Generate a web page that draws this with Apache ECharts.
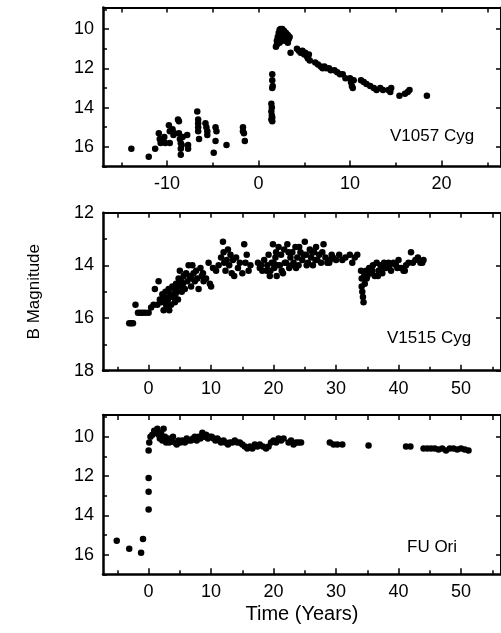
<!DOCTYPE html>
<html>
<head>
<meta charset="utf-8">
<script src="https://cdn.jsdelivr.net/npm/echarts@6/dist/echarts.min.js"></script>
<style>html,body{margin:0;padding:0;background:#fff;}#c{width:501px;height:633px;}</style>
</head>
<body>
<div id="c"></div>
<script>
// ---- data: [time (years), B magnitude] ----
const v1057Data = [
[-13.9,16.1],[-12.0,16.5],[-11.3,16.1],[-10.9,15.3],[-10.8,15.6],[-10.7,15.8],[-10.4,15.7],[-10.3,15.5],[-10.2,15.8],
[-9.8,14.9],[-9.7,15.2],[-9.7,15.8],[-9.4,15.1],[-9.3,15.4],[-9.2,15.3],[-8.8,14.6],[-8.7,14.7],[-8.7,15.3],[-8.6,15.6],
[-8.5,15.8],[-8.5,16.1],[-8.5,16.4],[-8.4,15.9],[-8.3,15.5],[-7.8,15.4],[-7.7,15.9],[-7.7,16.1],[-6.7,14.2],[-6.6,14.6],
[-6.6,14.8],[-6.6,15.0],[-6.6,15.2],[-6.5,15.6],[-5.8,14.8],[-5.7,15.0],[-5.6,15.2],[-5.6,15.4],[-4.7,15.0],[-4.6,15.2],
[-4.7,15.7],[-4.9,16.3],[-3.5,15.9],[-1.7,15.0],[-1.7,15.2],[-1.6,15.3],[-1.5,15.7],
[1.5,12.3],[1.5,12.6],[1.55,12.9],[1.5,13.0],[1.4,13.8],[1.45,14.0],[1.4,14.2],[1.45,14.4],[1.5,14.5],[1.4,14.6],[1.5,14.7],
[1.9,10.9],[2.0,10.6],[2.1,10.4],[2.2,10.2],[2.3,10.05],[2.4,10.0],[2.5,10.1],[2.6,10.0],[2.7,10.2],[2.8,10.1],[2.9,10.3],
[3.0,10.2],[3.1,10.4],[3.2,10.3],[3.3,10.5],[2.2,10.5],[2.5,10.6],[2.8,10.5],[3.1,10.6],[3.4,10.4],[2.0,10.8],[3.5,11.2],
[2.3,10.7],[2.6,10.4],[2.9,10.6],[3.2,10.7],
[4.2,11.0],[4.4,11.1],[4.6,11.2],[4.8,11.1],[5.0,11.3],[5.1,11.2],[5.3,11.4],[5.4,11.5],[5.5,11.3],[5.6,11.6],[6.2,11.7],
[6.5,11.8],[6.8,11.9],[7.0,12.0],[7.2,11.9],[7.4,12.0],[7.7,12.0],[7.9,12.1],[8.3,12.1],[8.6,12.2],[8.9,12.3],[9.2,12.3],
[9.5,12.5],[10.0,12.5],[10.1,12.7],[10.2,12.9],[10.3,13.0],[10.4,12.6],[11.2,12.6],[11.5,12.7],[11.8,12.8],[12.2,12.9],
[12.6,13.0],[12.9,13.1],[13.3,13.0],[13.6,13.1],[14.2,13.1],[14.4,13.2],[14.5,13.0],[15.4,13.4],[16.0,13.3],[16.3,13.2],
[16.5,13.1],[18.4,13.4]
];
const v1515Data = [
[-3.1,16.2],[-2.8,16.2],[-2.5,16.2],[-2.1,15.5],[-1.7,15.8],[-1.3,15.8],[-0.9,15.8],[-0.5,15.8],[0.0,15.8],[0.4,15.6],
[0.8,15.5],[1.0,14.9],[1.4,15.5],[1.6,14.6],[1.8,15.3],[2.0,15.4],[2.2,15.1],[2.4,15.7],[2.5,15.2],[2.7,15.0],[2.8,15.5],
[3.0,15.6],[3.1,15.3],[3.2,14.9],[3.3,15.7],[3.5,15.1],[3.6,15.5],[3.8,14.8],[3.9,15.2],[4.1,14.9],[4.2,15.4],[4.4,14.7],
[4.5,15.0],[4.7,15.3],[4.8,14.5],[4.9,14.8],[5.0,14.2],[5.2,14.6],[5.3,15.0],[5.5,14.7],[5.6,14.4],[5.8,14.9],[6.0,14.3],
[6.2,14.6],[6.4,14.0],[6.6,14.4],[6.8,14.8],[7.0,14.0],[7.2,14.3],[7.4,14.6],[7.6,14.2],[7.8,14.5],[8.0,14.9],[8.3,14.1],
[8.5,14.4],[8.8,14.6],[9.2,14.5],[9.6,13.9],[9.8,14.7],[10.0,14.8],[10.3,14.1],[10.8,14.2],[11.2,14.0],[11.6,13.7],
[11.9,13.1],[12.0,13.5],[12.1,13.9],[12.3,14.2],[12.5,13.8],[12.7,13.4],[12.9,14.0],[13.1,13.6],[13.3,14.3],[13.5,13.8],
[13.7,14.4],[14.0,13.7],[14.3,14.1],[14.6,13.9],[15.0,14.3],[15.3,13.2],[15.5,13.9],[15.7,13.6],[16.0,14.2],[16.3,14.0],
[17.5,13.9],[18.0,14.0],[18.5,13.8],[18.9,14.2],[19.2,13.6],[19.4,14.4],[19.7,13.9],[19.9,13.2],[20.1,14.1],[20.3,13.7],
[20.5,14.4],[20.8,13.3],[21.0,14.0],[21.2,13.6],[21.5,14.3],[21.7,13.4],[22.0,13.9],[22.2,13.2],[22.5,14.1],[22.7,13.7],
[23.0,13.5],[23.2,13.9],[23.5,13.3],[23.8,13.7],[24.0,14.0],[24.3,13.5],[24.6,13.8],[25.0,13.1],[25.2,13.6],[25.5,13.9],
[25.8,13.4],[26.0,13.7],[26.3,14.0],[26.5,13.5],[26.8,13.3],[27.0,13.8],[27.3,13.6],[27.6,13.9],[28.0,13.2],[28.3,13.7],
[28.6,13.9],[29.0,13.8],[29.5,13.7],[30.0,13.8],[30.5,13.6],[31.0,13.8],[31.5,13.7],[32.2,13.6],[32.6,13.9],[33.0,13.7],
[33.4,13.6],[18.2,14.2],[19.0,14.0],[20.0,13.9],[21.3,14.2],[23.6,14.1],[25.3,14.0],
[17.8,14.1],[19.5,14.2],[20.6,14.0],[21.8,13.9],[22.9,14.0],[24.8,13.6],[26.2,13.5],[27.8,13.5],[29.3,13.6],[20.4,13.5],
[22.4,13.5],[24.1,13.3],[26.7,13.8],[28.9,13.9],[2.6,15.4],[3.4,15.2],[4.3,15.1],[5.4,14.9],[6.9,14.5],[8.7,14.3],
[34.9,14.5],[35.8,14.2],[36.7,14.4],[37.6,14.1],[38.6,14.0],[39.8,14.1],[41.0,14.2],[43.8,13.9],
[34.0,14.2],[34.1,14.5],[34.1,14.8],[34.2,15.0],[34.3,15.2],[34.4,15.4],[34.5,14.4],[34.6,14.7],[34.8,14.2],[35.0,14.4],
[35.3,14.1],[35.6,14.3],[35.9,14.0],[36.2,14.4],[36.5,13.9],[36.8,14.2],[37.1,14.0],[37.4,14.3],[37.7,13.9],[38.0,14.1],
[38.4,13.9],[38.8,14.2],[39.2,13.9],[39.6,14.0],[40.0,13.8],[40.4,14.1],[40.8,14.2],[41.2,14.0],[41.6,13.9],[42.0,13.5],
[42.3,13.9],[42.7,13.8],[43.1,13.7],[43.5,13.9],[44.0,13.8]
];
const fuOriData = [
[-5.1,15.3],[-3.1,15.7],[-1.2,15.9],[-0.9,15.2],[0.0,13.7],[0.0,12.8],[0.0,12.1],[0.0,10.7],[0.1,10.3],[0.3,10.0],[0.6,9.9],
[0.9,9.7],[1.1,9.8],[1.4,9.6],[1.6,9.9],[1.8,10.1],[2.0,9.8],[2.2,10.2],[2.4,9.6],[2.6,10.0],[2.8,10.3],[3.1,10.1],[3.3,10.3],
[3.6,10.2],[3.9,10.0],[4.2,10.3],[4.5,10.4],[4.8,10.2],[5.1,10.3],[5.4,10.2],[5.8,10.3],[6.1,10.1],[6.4,10.2],[6.8,10.2],
[7.1,10.1],[7.4,10.0],[7.7,10.2],[8.0,10.0],[8.3,10.1],[8.6,9.8],[8.9,10.0],[9.2,9.9],[9.5,10.1],[9.8,10.0],[10.1,10.0],
[10.4,10.1],[10.7,10.2],[11.0,10.1],[11.3,10.2],[11.6,10.3],[12.0,10.2],[12.3,10.3],[12.7,10.4],[13.0,10.3],[13.4,10.3],
[13.8,10.2],[14.2,10.3],[14.6,10.3],[15.0,10.4],[15.4,10.5],[15.8,10.6],[16.2,10.5],[16.6,10.6],[17.0,10.4],[17.4,10.5],
[17.8,10.4],[18.3,10.5],[18.8,10.6],[19.2,10.5],[19.6,10.3],[20.0,10.2],[20.4,10.3],[20.8,10.1],[21.2,10.2],[21.6,10.1],
[22.4,10.3],[22.8,10.2],[23.2,10.4],[23.6,10.3],[24.0,10.3],[24.4,10.3],[29.0,10.3],[29.6,10.4],[30.2,10.4],[31.0,10.4],
[35.2,10.45],[41.2,10.5],[41.9,10.5],[44.0,10.6],[44.6,10.6],[45.2,10.6],[45.8,10.6],[46.4,10.65],[47.0,10.6],[47.6,10.7],
[48.2,10.6],[48.8,10.6],[49.4,10.65],[50.0,10.6],[50.6,10.65],[51.2,10.7]
];
// ---- tick labels ----
const xLabels1 = [-10, 0, 10, 20];
const xMinor1 = [-15, -5, 5, 15, 25];
const xLabels23 = [0, 10, 20, 30, 40, 50];
const xMinor23 = [-5, 5, 15, 25, 35, 45, 55];
const yLabels13 = [10, 12, 14, 16];
const yMinor13 = [9, 11, 13, 15, 17];
const yLabels2 = [12, 14, 16, 18];
const yMinor2 = [13, 15, 17];
const starNames = ['V1057 Cyg', 'V1515 Cyg', 'FU Ori'];
const xTitle = 'Time (Years)';
const yTitle = 'B Magnitude';

const FONT = '"Liberation Sans", Arial, Helvetica, sans-serif';
const BLACK = '#000';

function xAxesFor(gi, min, max, majors, minors, extra) {
  const all = majors.concat(minors).sort((a, b) => a - b);
  return [
    Object.assign({
      gridIndex: gi, type: 'value', min, max, position: 'bottom',
      axisLine: { show: true, onZero: false, lineStyle: { color: BLACK, width: 2.5 } },
      axisTick: { show: true, inside: true, length: 6, customValues: majors, lineStyle: { color: BLACK, width: 1.5 } },
      axisLabel: { show: true, customValues: majors, fontSize: 18, color: BLACK, fontFamily: FONT, margin: 9 },
      splitLine: { show: false }
    }, extra || {}),
    {
      gridIndex: gi, type: 'value', min, max, position: 'bottom',
      axisLine: { show: false, onZero: false },
      axisTick: { show: true, inside: true, length: 4, customValues: minors, lineStyle: { color: BLACK, width: 1.5 } },
      axisLabel: { show: false }, splitLine: { show: false }
    },
    {
      gridIndex: gi, type: 'value', min, max, position: 'top',
      axisLine: { show: true, onZero: false, lineStyle: { color: BLACK, width: 2 } },
      axisTick: { show: true, inside: true, length: 5, customValues: all, lineStyle: { color: BLACK, width: 1.5 } },
      axisLabel: { show: false }, splitLine: { show: false }
    }
  ];
}
function yAxesFor(gi, min, max, majors, minors, extra) {
  return [
    Object.assign({
      gridIndex: gi, type: 'value', min, max, inverse: true, position: 'left',
      axisLine: { show: true, onZero: false, lineStyle: { color: BLACK, width: 2.5 } },
      axisTick: { show: true, inside: true, length: 6, customValues: majors, lineStyle: { color: BLACK, width: 1.5 } },
      axisLabel: { show: true, customValues: majors, fontSize: 18, color: BLACK, fontFamily: FONT, margin: 9 },
      splitLine: { show: false }
    }, extra || {}),
    {
      gridIndex: gi, type: 'value', min, max, inverse: true, position: 'left',
      axisLine: { show: false, onZero: false },
      axisTick: { show: true, inside: true, length: 4, customValues: minors, lineStyle: { color: BLACK, width: 1.5 } },
      axisLabel: { show: false }, splitLine: { show: false }
    },
    {
      gridIndex: gi, type: 'value', min, max, inverse: true, position: 'right',
      axisLine: { show: true, onZero: false, lineStyle: { color: BLACK, width: 2 } },
      axisTick: { show: true, inside: true, length: 5, customValues: majors, lineStyle: { color: BLACK, width: 1.5 } },
      axisLabel: { show: false }, splitLine: { show: false }
    }
  ];
}

const xAxis = [].concat(
  xAxesFor(0, -17, 26.5, xLabels1, xMinor1),
  xAxesFor(1, -7.3, 56.4, xLabels23, xMinor23),
  xAxesFor(2, -7.3, 56.4, xLabels23, xMinor23, {
    name: xTitle, nameLocation: 'middle', nameGap: 30,
    nameTextStyle: { fontSize: 20, color: BLACK, fontFamily: FONT }
  })
);
const yAxis = [].concat(
  yAxesFor(0, 8.9, 17, yLabels13, yMinor13),
  yAxesFor(1, 12, 18, yLabels2, yMinor2, {
    name: yTitle, nameLocation: 'middle', nameGap: 60, nameRotate: 90,
    nameTextStyle: { fontSize: 17, color: BLACK, fontFamily: FONT }
  }),
  yAxesFor(2, 8.9, 17, yLabels13, yMinor13)
);

const seriesData = [v1057Data, v1515Data, fuOriData];
const series = seriesData.map((d, i) => ({
  type: 'scatter', xAxisIndex: i * 3, yAxisIndex: i * 3, data: d,
  symbol: 'circle', symbolSize: 6.5,
  itemStyle: { color: BLACK, opacity: 1 },
  silent: true, animation: false
}));

const titlePos = [{ left: 390, top: 128 }, { left: 387, top: 330 }, { left: 407, top: 539 }];
const title = starNames.map((n, i) => ({
  text: n, left: titlePos[i].left, top: titlePos[i].top, padding: 0,
  textStyle: { fontSize: 17, fontWeight: 'normal', color: BLACK, fontFamily: FONT }
}));

const chart = echarts.init(document.getElementById('c'), null, { renderer: 'canvas' });
chart.setOption({
  backgroundColor: '#fff',
  animation: false,
  title,
  grid: [
    { left: 103, top: 7.5, width: 400, height: 159, show: false },
    { left: 103, top: 212.7, width: 400, height: 158, show: false },
    { left: 103, top: 415, width: 400, height: 159.3, show: false }
  ],
  xAxis, yAxis, series
});
</script>
</body>
</html>
